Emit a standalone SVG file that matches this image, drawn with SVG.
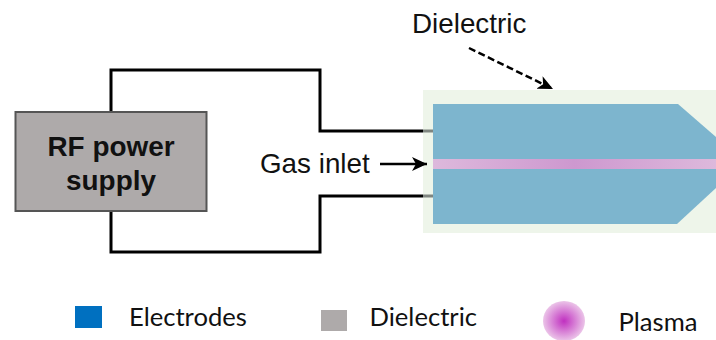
<svg xmlns="http://www.w3.org/2000/svg" width="716" height="340" viewBox="0 0 716 340">
<style>
.a{font-family:"Liberation Sans",Arial,sans-serif;font-size:27.800px;fill:#111}
.b{font-family:"Liberation Sans",Arial,sans-serif;font-size:27.900px;font-weight:bold;fill:#111;text-anchor:middle}
.l{font-family:Lato,"Open Sans",sans-serif;font-size:25.600px;fill:#111}
.w{fill:none;stroke:#000;stroke-width:3}
</style>
<defs>
<linearGradient id="pl"><stop offset="0" stop-color="#DDB9DC"/><stop offset=".5" stop-color="#CD98CF"/><stop offset="1" stop-color="#DDB9DC"/></linearGradient>
<radialGradient id="pg"><stop offset="0" stop-color="#C030C0"/><stop offset="1" stop-color="#EBC4E8"/></radialGradient>
<marker id="ah" markerUnits="userSpaceOnUse" markerWidth="16" markerHeight="14" refX="15" refY="7" orient="auto"><path d="M0 0L15 7L0 14L4 7Z" fill="#000"/></marker>
</defs>
<g id="device">
<rect x="423" y="90" width="293" height="143" fill="#EEF5EA"/>
<path d="M433 104H678L716 137V188L677 224H433Z" fill="#7DB5CE"/>
<rect x="433" y="159" width="283" height="10" fill="url(#pl)"/>
<rect x="423" y="129.500" width="10" height="3" fill="#7F8580"/>
<rect x="423" y="194.500" width="10" height="3" fill="#7F8580"/>
</g>
<g id="connectors">
<path class="w" d="M111 112V70H320V131H423"/>
<path class="w" d="M111 211V252H320V196H423"/>
<path d="M380 164H427" fill="none" stroke="#000" stroke-width="2.500" marker-end="url(#ah)"/>
<path d="M469 48L553 89" fill="none" stroke="#000" stroke-width="2.500" stroke-dasharray="7 3.500" marker-end="url(#ah)"/>
</g>
<g id="rf-power-supply">
<rect x="15.500" y="112" width="191" height="99" fill="#AEAAAA" stroke="#555" stroke-width="2"/>
<text class="b" x="111" y="156">RF power</text>
<text class="b" x="111" y="190">supply</text>
</g>
<g id="labels">
<text class="a" x="412" y="33">Dielectric</text>
<text class="a" x="260" y="173">Gas inlet</text>
</g>
<g id="legend-electrodes"><rect x="75" y="306" width="27" height="22" fill="#0070C0"/><text class="l" x="129" y="326">Electrodes</text></g>
<g id="legend-dielectric"><rect x="321" y="310" width="26" height="21" fill="#AEAAAA"/><text class="l" x="369.500" y="326">Dielectric</text></g>
<g id="legend-plasma"><ellipse cx="564" cy="321" rx="21" ry="20" fill="url(#pg)"/><text class="l" x="618.500" y="331">Plasma</text></g>
</svg>
